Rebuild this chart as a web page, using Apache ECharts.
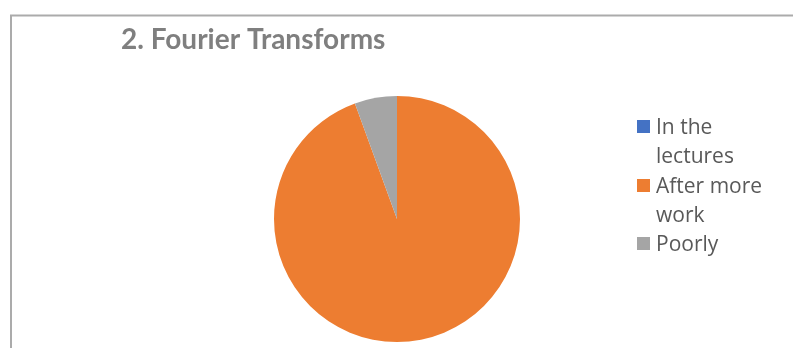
<!DOCTYPE html>
<html>
<head>
<meta charset="utf-8">
<script src="https://cdn.jsdelivr.net/npm/echarts@6/dist/echarts.min.js"></script>
<style>
  html, body { margin: 0; padding: 0; background: #fff; }
  #chart { width: 793px; height: 348px; }
</style>
</head>
<body>
<div id="chart"></div>
<script>
// Survey answers for question 2
const titleText = '2. Fourier Transforms';
const categories = ['In the lectures', 'After more work', 'Poorly'];
const legendLabels = ['In the\nlectures', 'After more\nwork', 'Poorly'];
const counts = [0, 17, 1];
const colors = ['#4472c4', '#ed7d31', '#a5a5a5'];

const chart = echarts.init(document.getElementById('chart'));

// Legend entries, stacked on the right, built from the category list
const legendTops = [120, 179, 237];
const legendGraphics = [];
categories.forEach((c, i) => {
  legendGraphics.push({
    type: 'rect', left: 637, top: legendTops[i],
    shape: { width: 13, height: 13 },
    style: { fill: colors[i] }
  });
  legendGraphics.push({
    type: 'text', left: 656, top: legendTops[i] - 6,
    style: {
      text: legendLabels[i], fill: '#595959',
      font: '21px "Open Sans"', lineHeight: 29
    }
  });
});

chart.setOption({
  animation: false,
  title: {
    text: titleText, left: 116, top: 21,
    textStyle: { color: '#7f7f7f', fontSize: 28, fontWeight: 'bold', fontFamily: 'Lato' }
  },
  graphic: [
    {
      type: 'polyline',
      shape: { points: [[11, 360], [11, 15.5], [800, 15.5]] },
      style: { stroke: '#ababab', lineWidth: 2, fill: null }
    }
  ].concat(legendGraphics),
  series: [{
    type: 'pie',
    center: [397, 219],
    radius: 123,
    startAngle: 90,
    clockwise: true,
    label: { show: false },
    labelLine: { show: false },
    itemStyle: { borderWidth: 0 },
    emphasis: { disabled: true },
    data: categories.map((c, i) => ({ name: c, value: counts[i], itemStyle: { color: colors[i] } }))
  }]
});
</script>
</body>
</html>
